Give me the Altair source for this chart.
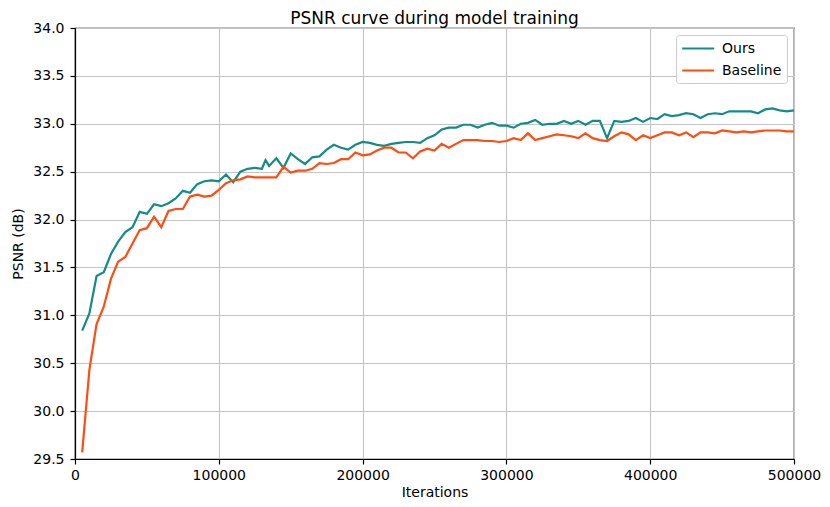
import altair as alt
import pandas as pd

# Ours (teal)
ours_iter = [5000, 10000, 15000, 20000, 25000, 30000, 35000, 40000, 45000, 50000,
             55000, 60000, 65000, 70000, 75000, 80000, 85000, 90000, 95000, 100000,
             105000, 110000, 115000, 120000, 125000, 130000, 132500, 135000, 140000, 145000,
             150000, 155000, 160000, 165000, 170000, 175000, 180000, 185000, 190000, 195000,
             200000, 205000, 210000, 215000, 220000, 225000, 230000, 235000, 240000, 245000,
             250000, 255000, 260000, 265000, 270000, 275000, 280000, 285000, 290000, 295000,
             300000, 305000, 310000, 315000, 320000, 325000, 330000, 335000, 340000, 345000,
             350000, 355000, 360000, 365000, 370000, 375000, 380000, 385000, 390000, 395000,
             400000, 405000, 410000, 415000, 420000, 425000, 430000, 435000, 440000, 445000,
             450000, 455000, 460000, 465000, 470000, 475000, 480000, 485000, 490000, 495000,
             500000]
ours_psnr = [30.84, 31.02, 31.41, 31.45, 31.64, 31.77, 31.87, 31.92, 32.08, 32.06,
             32.16, 32.14, 32.17, 32.22, 32.30, 32.28, 32.37, 32.40, 32.41, 32.40,
             32.47, 32.39, 32.50, 32.53, 32.54, 32.53, 32.62, 32.56, 32.64, 32.54,
             32.69, 32.63, 32.58, 32.65, 32.66, 32.73, 32.78, 32.75, 32.73, 32.78,
             32.81, 32.80, 32.78, 32.77, 32.79, 32.80, 32.81, 32.81, 32.80, 32.85,
             32.88, 32.94, 32.96, 32.96, 32.99, 32.99, 32.96, 32.99, 33.01, 32.98,
             32.98, 32.96, 33.00, 33.01, 33.04, 32.99, 33.00, 33.00, 33.03, 33.00,
             33.03, 32.99, 33.03, 33.03, 32.85, 33.03, 33.02, 33.03, 33.06, 33.02,
             33.06, 33.05, 33.10, 33.08, 33.09, 33.11, 33.10, 33.06, 33.10, 33.11,
             33.10, 33.13, 33.13, 33.13, 33.13, 33.11, 33.15, 33.16, 33.14, 33.13,
             33.14]

# Baseline (orange-red)
base_iter = [5000 * i for i in range(1, 101)]
base_psnr = [29.57, 30.43, 30.91, 31.09, 31.38, 31.56, 31.61, 31.75, 31.89, 31.91,
             32.03, 31.92, 32.09, 32.11, 32.11, 32.24, 32.26, 32.24, 32.25, 32.31,
             32.38, 32.41, 32.42, 32.45, 32.44, 32.44, 32.44, 32.44, 32.55, 32.49,
             32.51, 32.51, 32.53, 32.59, 32.58, 32.59, 32.63, 32.63, 32.70, 32.67,
             32.68, 32.72, 32.75, 32.75, 32.70, 32.70, 32.64, 32.71, 32.74, 32.72,
             32.79, 32.75, 32.79, 32.83, 32.83, 32.83, 32.82, 32.82, 32.81, 32.82,
             32.85, 32.83, 32.90, 32.83, 32.85, 32.87, 32.89, 32.88, 32.87, 32.85,
             32.90, 32.85, 32.83, 32.82, 32.87, 32.91, 32.89, 32.83, 32.88, 32.85,
             32.88, 32.91, 32.91, 32.88, 32.91, 32.86, 32.91, 32.91, 32.90, 32.93,
             32.92, 32.91, 32.92, 32.91, 32.92, 32.93, 32.93, 32.93, 32.92, 32.92]

x_ticks = [0, 100000, 200000, 300000, 400000, 500000]
y_ticks = [29.5, 30.0, 30.5, 31.0, 31.5, 32.0, 32.5, 33.0, 33.5, 34.0]
series_names = ["Ours", "Baseline"]
series_colors = ["#138c87", "#ff4d12"]

df = pd.concat([
    pd.DataFrame({"Iterations": ours_iter, "PSNR": ours_psnr, "Series": "Ours"}),
    pd.DataFrame({"Iterations": base_iter, "PSNR": base_psnr, "Series": "Baseline"}),
])

FONT = "DejaVu Sans"

chart = alt.Chart(df).mark_line(strokeWidth=2.2).encode(
    x=alt.X("Iterations:Q",
            scale=alt.Scale(domain=[0, 500000], nice=False, zero=False),
            axis=alt.Axis(values=x_ticks, format="d", title="Iterations",
                          labelFlush=False, tickSize=5, labelPadding=4,
                          titlePadding=3)),
    y=alt.Y("PSNR:Q",
            scale=alt.Scale(domain=[29.5, 34.0], nice=False, zero=False),
            axis=alt.Axis(values=y_ticks, format=".1f", title="PSNR (dB)",
                          labelFlush=False, tickSize=5, labelPadding=6,
                          titlePadding=7)),
    color=alt.Color("Series:N",
                    scale=alt.Scale(domain=series_names, range=series_colors),
                    sort=series_names,
                    legend=alt.Legend(title=None, orient="none", legendX=601, legendY=7,
                                      symbolType="M-1.04,0L3.53,0", symbolSize=196,
                                      symbolStrokeWidth=2.2, labelFontSize=14,
                                      labelFont=FONT, labelOffset=24, rowPadding=6,
                                      padding=5, fillColor="white",
                                      strokeColor="#cccccc", cornerRadius=3)),
    detail="Series:N",
).properties(
    width=719,
    height=431,
    title=alt.TitleParams("PSNR curve during model training", fontSize=17,
                          font=FONT, fontWeight="normal", offset=-7, color="black"),
    autosize=alt.AutoSizeParams(type="none"),
    padding={"left": 67, "top": 20, "right": 28, "bottom": 39},
).configure_axis(
    labelFont=FONT, titleFont=FONT, labelFontSize=14, titleFontSize=14,
    titleFontWeight="normal", labelColor="black", titleColor="black",
    domainColor="black", domainWidth=1.2, tickColor="black", tickWidth=1.2,
    gridColor="#c4c4c4", gridWidth=1.1,
).configure_view(
    stroke="black", strokeWidth=1.2,
)

chart.save("out.html", embed_options={"renderer": "svg", "actions": False})
